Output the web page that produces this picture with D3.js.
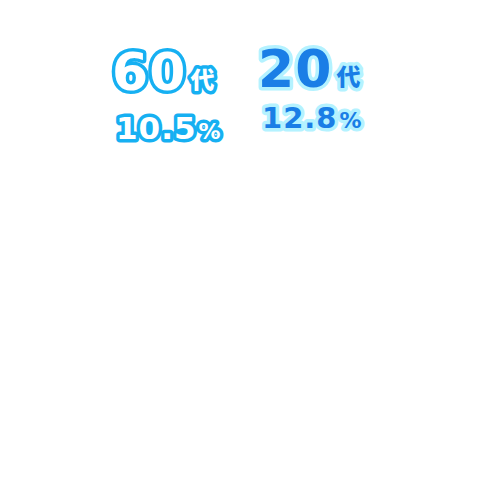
<!DOCTYPE html>
<html><head><meta charset="utf-8">
<script src="https://cdn.jsdelivr.net/npm/d3@7"></script>
<style>body{margin:0;background:#fff}</style>
</head><body>
<script>
var ages = ["60", "20"],
    percents = [10.5, 12.8],
    fills = ["#ffffff", "#1a7ee6"],
    strokes = ["#16b0f2", "#b4f2ff"];

var width = 480, height = 504;
var svg = d3.select("body").append("svg").attr("width", width).attr("height", height);

// label anchor positions for each slice label
var x = d3.scalePoint().domain(ages).range([112, 258]);
var pctDx = [4, 4];
var yNum = [90, 87], yPct = [139, 128];
var sizes = [52, 52], pctSizes = [31, 29];

var g = svg.selectAll("g.lbl").data(ages).enter().append("g")
  .attr("font-family", "'DejaVu Sans', sans-serif")
  .attr("font-weight", "bold")
  .attr("paint-order", "stroke")
  .attr("stroke-linejoin", "round")
  .attr("fill", function (d, i) {return fills[i];})
  .attr("stroke", function (d, i) {return strokes[i];})
  .attr("stroke-width", 7);

var t1 = g.append("text")
  .attr("x", function (d) {return x(d);})
  .attr("y", function (d, i) {return yNum[i];})
  .attr("font-size", function (d, i) {return sizes[i];})
  .attr("letter-spacing", 1);
t1.append("tspan").text(function (d) {return d;});
t1.append("tspan").attr("dx", 4).attr("dy", -1).attr("font-size", 24).attr("font-family", "'Noto Sans CJK JP'").attr("font-weight", 900).text("代");

var t2 = g.append("text")
  .attr("x", function (d, i) {return x(d) + pctDx[i];})
  .attr("y", function (d, i) {return yPct[i];})
  .attr("font-size", function (d, i) {return pctSizes[i];})
  .attr("letter-spacing", 1);
t2.append("tspan").text(function (d, i) {return percents[i].toFixed(1);});
t2.append("tspan").attr("dx", 2).attr("font-size", 22).text("%");
</script>
</body></html>
